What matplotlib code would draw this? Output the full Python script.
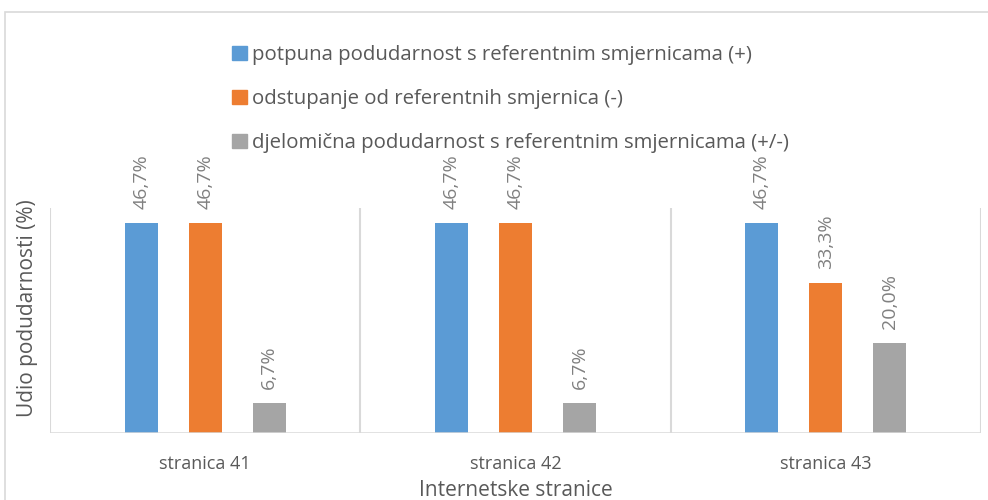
import matplotlib.pyplot as plt
import matplotlib.patches as mpatches
import numpy as np

categories = ['stranica 41', 'stranica 42', 'stranica 43']
series_names = ['potpuna podudarnost s referentnim smjernicama (+)',
                'odstupanje od referentnih smjernica (-)',
                'djelomična podudarnost s referentnim smjernicama (+/-)']
full_match = [46.7, 46.7, 46.7]
deviation = [46.7, 46.7, 33.3]
partial_match = [6.7, 6.7, 20.0]
colors = ['#5B9BD5', '#ED7D31', '#A5A5A5']

plt.rcParams['font.family'] = ['Open Sans', 'DejaVu Sans']

fig = plt.figure(figsize=(9.88, 5), dpi=100)
ax = fig.add_axes([50 / 988, 67 / 500, 931 / 988, 225 / 500])

x = np.arange(len(categories))
width = 0.106
step = 0.206
for i, (vals, c) in enumerate(zip([full_match, deviation, partial_match], colors)):
    pos = x + (i - 1) * step
    bars = ax.bar(pos, vals, width, color=c, label=series_names[i], zorder=3)
    for b, v in zip(bars, vals):
        ax.annotate(f'{v:.1f}%'.replace('.', ','), (b.get_x() + b.get_width() / 2, v),
                    xytext=(0, 10), textcoords='offset points', rotation=90,
                    ha='center', va='bottom', fontsize=14, color='#808080')

ax.set_xlim(-0.5, 2.5)
ax.set_ylim(0, 50)
for xv in [-0.5, 0.5, 1.5, 2.5]:
    ax.axvline(xv, color='#d9d9d9', lw=1.5, zorder=1)
for s in ax.spines.values():
    s.set_visible(False)
ax.axhline(0, color='#d9d9d9', lw=1.8, zorder=4)
ax.set_yticks([])
ax.set_xticks(x)
ax.set_xticklabels(categories, fontsize=13, color='#595959')
ax.tick_params(axis='x', length=0, pad=16)
ax.set_xlabel('Internetske stranice', fontsize=15, color='#595959', labelpad=5)
ax.set_ylabel('Udio podudarnosti (%)', fontsize=15, color='#595959')
ax.yaxis.set_label_coords(-0.013, 0.555)

handles = [mpatches.Patch(color=c) for c in colors]
fig.legend(handles, series_names, loc='upper left', bbox_to_anchor=(222 / 988, 1 - 35 / 500),
           frameon=False, fontsize=14.7, labelcolor='#595959', handlelength=0.7,
           handleheight=0.64, handletextpad=0.25, labelspacing=1.17, borderpad=0)

fig.patches.append(mpatches.Rectangle((5 / 988, -0.1), 1.2, 1 - 12 / 500 + 0.1,
                                      transform=fig.transFigure, fill=False,
                                      edgecolor='#d9d9d9', lw=1.2))

fig.savefig('out.png', dpi=100)
